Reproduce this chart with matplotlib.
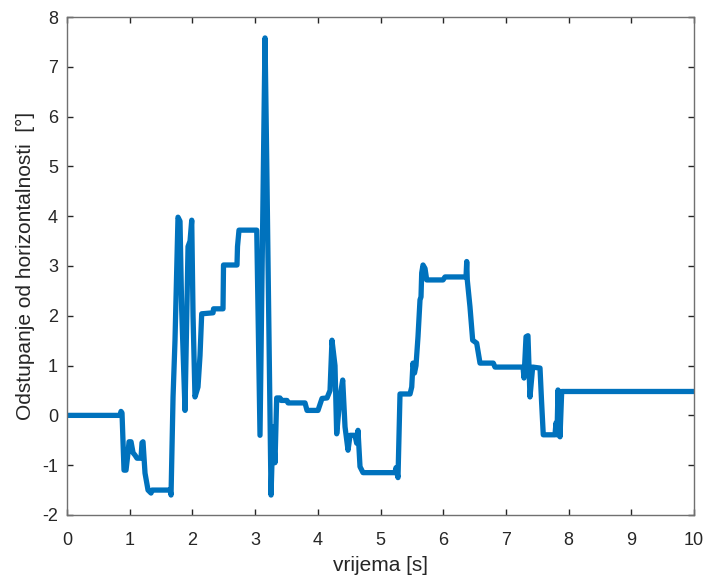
import matplotlib
matplotlib.use("Agg")
import matplotlib.pyplot as plt

t = [0.0, 0.845, 0.861, 0.877, 0.909, 0.941, 0.973, 0.989, 1.021, 1.053, 1.085, 1.116,
     1.180, 1.196, 1.212, 1.244, 1.292, 1.340, 1.356, 1.643, 1.659, 1.691, 1.722, 1.770,
     1.802, 1.829, 1.882, 1.930, 1.962, 1.989, 2.010, 2.041, 2.089, 2.121, 2.148, 2.329,
     2.337, 2.488, 2.496, 2.711, 2.719, 2.743, 3.026, 3.078, 3.158, 3.185, 3.254, 3.285,
     3.317, 3.344, 3.397, 3.413, 3.509, 3.525, 3.796, 3.828, 4.003, 4.067, 4.147, 4.195,
     4.226, 4.274, 4.301, 4.354, 4.397, 4.434, 4.482, 4.514, 4.593, 4.620, 4.641, 4.673,
     4.721, 5.231, 5.247, 5.279, 5.311, 5.471, 5.498, 5.518, 5.542, 5.566, 5.598, 5.630,
     5.646, 5.657, 5.678, 5.710, 5.737, 5.997, 6.029, 6.364, 6.375, 6.384, 6.427, 6.470,
     6.534, 6.587, 6.799, 6.826, 7.273, 7.289, 7.321, 7.352, 7.384, 7.427, 7.544, 7.568,
     7.596, 7.783, 7.799, 7.815, 7.831, 7.863, 7.890, 10.0]
odstupanje = [0.0, 0.0, 0.08, 0.05, -1.1, -1.1, -0.75, -0.53, -0.53, -0.75, -0.8, -0.86,
              -0.86, -0.55, -0.53, -1.16, -1.5, -1.56, -1.5, -1.5, -1.6, 0.37, 1.5, 3.98,
              3.9, 2.12, 0.1, 3.39, 3.5, 3.92, 2.0, 0.37, 0.57, 1.2, 2.04, 2.06,
              2.14, 2.14, 3.02, 3.02, 3.39, 3.72, 3.72, -0.4, 7.58, 5.13, -1.6, -0.23,
              -0.95, 0.35, 0.35, 0.3, 0.3, 0.25, 0.25, 0.1, 0.1, 0.34, 0.35, 0.5,
              1.51, 1.0, -0.37, 0.37, 0.71, -0.23, -0.7, -0.4, -0.4, -0.56, -0.3, -1.03,
              -1.15, -1.15, -1.05, -1.25, 0.43, 0.43, 0.57, 1.05, 0.85, 1.0, 1.58, 2.32,
              2.38, 2.86, 3.02, 2.95, 2.72, 2.72, 2.78, 2.78, 3.09, 2.72, 2.18, 1.51,
              1.45, 1.05, 1.05, 0.97, 0.97, 0.75, 1.58, 1.6, 0.37, 0.97, 0.95, 0.3,
              -0.39, -0.39, -0.15, -0.39, 0.51, -0.43, 0.48, 0.48]

xticks = list(range(0, 11))
yticks = list(range(-2, 9))

plt.rcParams['font.family'] = ['Liberation Sans', 'DejaVu Sans']
plt.rcParams['axes.unicode_minus'] = False

fig = plt.figure(figsize=(7.07, 5.77), dpi=100)
ax = fig.add_axes([0.0948, 0.1075, 0.8868, 0.8630])
ax.plot(t, odstupanje, color='#0072BD', lw=3.8, solid_joinstyle='round')
ax.set_xlim(0, 10)
ax.set_ylim(-2, 8)
ax.set_xticks(xticks)
ax.set_yticks(yticks)
ax.tick_params(direction='in', top=True, right=True, length=4.3, width=1.0,
               colors='#262626', labelsize=13)
ax.tick_params(axis='x', pad=12)
ax.tick_params(axis='y', pad=6.5)
for s in ax.spines.values():
    s.set_color('#707070')
    s.set_linewidth(1.0)
ax.set_xlabel('vrijema [s]', fontsize=15, color='#262626', labelpad=5)
ax.set_ylabel('Odstupanje od horizontalnosti  [°]', fontsize=15, color='#262626', labelpad=5)
fig.savefig('out.png', dpi=100)
